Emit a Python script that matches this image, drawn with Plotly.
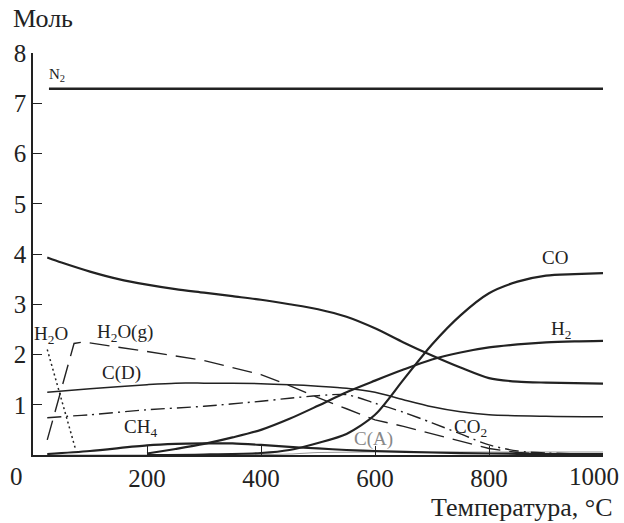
import plotly.graph_objects as go

# ---- data ----
x_n2 = [28, 1000]
y_n2 = [7.29, 7.29]

x_top = [25, 50, 100, 150, 200, 250, 300, 350, 400, 450, 500, 550, 600, 650, 700, 750, 800, 850, 900, 950, 1000]
y_top = [3.93, 3.83, 3.65, 3.5, 3.39, 3.3, 3.23, 3.16, 3.09, 3.0, 2.9, 2.75, 2.52, 2.24, 1.98, 1.74, 1.53, 1.46, 1.44, 1.43, 1.42]

x_co = [200, 300, 400, 450, 500, 550, 600, 650, 700, 750, 800, 850, 900, 950, 1000]
y_co = [0.0, 0.01, 0.04, 0.1, 0.24, 0.42, 0.8, 1.5, 2.2, 2.78, 3.22, 3.45, 3.57, 3.6, 3.62]

x_h2 = [200, 250, 300, 350, 400, 450, 500, 550, 600, 650, 700, 750, 800, 850, 900, 950, 1000]
y_h2 = [0.03, 0.12, 0.22, 0.35, 0.5, 0.72, 0.98, 1.25, 1.48, 1.7, 1.9, 2.04, 2.14, 2.2, 2.24, 2.26, 2.27]

x_cd = [25, 100, 200, 250, 300, 400, 450, 500, 550, 600, 650, 700, 750, 800, 900, 1000]
y_cd = [1.25, 1.32, 1.4, 1.43, 1.43, 1.42, 1.4, 1.37, 1.33, 1.25, 1.1, 0.96, 0.86, 0.8, 0.77, 0.76]

x_ch4 = [25, 100, 200, 250, 300, 350, 400, 450, 500, 550, 600, 700, 800, 900, 1000]
y_ch4 = [0.02, 0.08, 0.19, 0.22, 0.23, 0.23, 0.2, 0.16, 0.13, 0.1, 0.08, 0.05, 0.03, 0.02, 0.02]

x_h2o = [25, 75]
y_h2o = [2.1, 0.1]

x_h2og = [25, 72, 88, 150, 200, 300, 400, 450, 500, 550, 600, 650, 700, 750, 800, 850, 900, 1000]
y_h2og = [0.3, 2.22, 2.25, 2.15, 2.06, 1.88, 1.6, 1.38, 1.14, 0.92, 0.7, 0.57, 0.42, 0.28, 0.13, 0.05, 0.02, 0.01]

x_co2 = [25, 60, 100, 200, 300, 400, 450, 500, 550, 600, 650, 700, 750, 800, 850, 900, 1000]
y_co2 = [0.74, 0.77, 0.8, 0.9, 0.97, 1.07, 1.13, 1.18, 1.2, 1.03, 0.85, 0.64, 0.42, 0.2, 0.08, 0.04, 0.02]

x_ca = [25, 300, 450, 500, 600, 700, 800, 900, 1000]
y_ca = [0.0, 0.0, 0.02, 0.05, 0.06, 0.06, 0.06, 0.06, 0.06]

label_text = ["N<sub>2</sub>", "H<sub>2</sub>O", "H<sub>2</sub>O(g)", "C(D)", "CH<sub>4</sub>",
              "C(A)", "CO<sub>2</sub>", "CO", "H<sub>2</sub>"]
label_x = [42, 32, 161, 156, 188, 598, 767, 916, 926]
label_y = [7.57, 2.39, 2.43, 1.63, 0.54, 0.32, 0.54, 3.94, 2.49]
label_size = [15, 19, 19, 19, 19, 19, 19, 19, 19]
label_color = ["#222", "#222", "#222", "#222", "#222", "#888", "#222", "#222", "#222"]

x_ticks = [200, 400, 600, 800, 1000]
x_ticktext = ["200", "400", "600", "800", ""]   # "1000" drawn separately so it stays inside the page
y_ticks = [1, 2, 3, 4, 5, 6, 7, 8]

FONT = "Liberation Serif, Times New Roman, serif"
INK = "#222222"

fig = go.Figure()

def add(x, y, width, dash="solid", color=INK, shape="spline", name=""):
    fig.add_trace(go.Scatter(x=x, y=y, mode="lines", name=name,
                             line=dict(color=color, width=width, dash=dash, shape=shape,
                                       smoothing=0.8 if shape == "spline" else None),
                             hoverinfo="skip", showlegend=False))

add(x_ca, y_ca, 1.2, color="#999999", name="C(A)")
add(x_n2, y_n2, 2.5, shape="linear", name="N2")
add(x_top, y_top, 2.2, name="top")
add(x_co, y_co, 2.2, name="CO")
add(x_h2, y_h2, 2.2, name="H2")
add(x_cd, y_cd, 1.5, name="C(D)")
add(x_ch4, y_ch4, 2.2, name="CH4")
add(x_h2o, y_h2o, 1.5, dash="2px,3px", shape="linear", name="H2O")
add(x_h2og, y_h2og, 1.4, dash="20px,9px", shape="linear", name="H2O(g)")
add(x_co2, y_co2, 1.4, dash="14px,5px,2px,5px", name="CO2")

for t, xx, yy, s, c in zip(label_text, label_x, label_y, label_size, label_color):
    fig.add_annotation(x=xx, y=yy, text=t, showarrow=False,
                       font=dict(family=FONT, size=s, color=c), xanchor="center", yanchor="middle")

# combined origin label, last x tick label and axis titles
fig.add_annotation(x=0, y=0, xref="paper", yref="paper", text="0", showarrow=False,
                   xanchor="center", yanchor="middle", xshift=-17, yshift=-21,
                   font=dict(family=FONT, size=25, color=INK))
fig.add_annotation(x=1, y=0, xref="paper", yref="paper", text="1000", showarrow=False,
                   xanchor="right", yanchor="middle", xshift=18, yshift=-21,
                   font=dict(family=FONT, size=25, color=INK))
fig.add_annotation(x=0, y=1, xref="paper", yref="paper", text="Моль", showarrow=False,
                   xanchor="left", yanchor="bottom", xshift=-22, yshift=18,
                   font=dict(family=FONT, size=26, color=INK))
fig.add_annotation(x=1, y=0, xref="paper", yref="paper", text="Температура, °C", showarrow=False,
                   xanchor="right", yanchor="top", xshift=12, yshift=-36,
                   font=dict(family=FONT, size=26, color=INK))

fig.update_layout(
    width=624, height=523,
    margin=dict(l=33, r=21, t=53, b=68, autoexpand=False),
    plot_bgcolor="white", paper_bgcolor="white",
    font=dict(family=FONT, size=25, color=INK),
    xaxis=dict(range=[0, 1000], tickvals=x_ticks, ticktext=x_ticktext, ticks="inside", ticklen=9,
               tickwidth=1.2, tickcolor=INK, showline=True, linecolor=INK, linewidth=1.5,
               showgrid=False, zeroline=False, automargin=False,
               tickfont=dict(family=FONT, size=25, color=INK)),
    yaxis=dict(range=[0, 8], tickvals=y_ticks, ticks="inside", ticklen=9, tickwidth=1.2,
               tickcolor=INK, showline=True, linecolor=INK, linewidth=1.5, showgrid=False,
               zeroline=False, automargin=False,
               tickfont=dict(family=FONT, size=25, color=INK)),
)

fig.write_html("out.html", config={"displayModeBar": False},
               post_script="document.body.style.margin='0';document.body.style.overflow='hidden';")
